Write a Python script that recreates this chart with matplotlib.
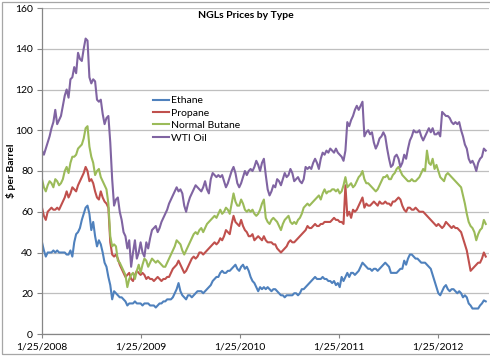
import matplotlib
matplotlib.use("Agg")
import matplotlib.pyplot as plt
import pandas as pd
from matplotlib.patches import Rectangle

# weekly prices, $ per barrel, first week 1/25/2008
ethane = [
    45, 41, 38, 40, 40, 40, 41, 40, 41, 40, 40, 40, 40, 39, 39, 41, 38, 45, 49, 50,
    52, 56, 59, 62, 63, 59, 51, 55, 48, 43, 46, 44, 40, 35, 33, 28, 24, 17, 21, 20,
    19, 18, 18, 17, 16, 14, 15, 15, 15, 16, 15, 15,
    # 2009
    15, 14, 15, 15, 15, 14, 14, 14, 13, 14, 15, 15, 16, 16, 17, 17, 17, 18, 20, 22,
    25, 21, 19, 18, 17, 19, 19, 18, 19, 20, 21, 21, 21, 20, 21, 22, 23, 24, 26, 27,
    28, 28, 30, 31, 30, 30, 31, 31, 32, 33, 34, 32,
    # 2010
    31, 33, 34, 32, 33, 31, 28, 26, 25, 23, 21, 23, 22, 23, 22, 23, 22, 21, 22, 22,
    21, 20, 19, 19, 18, 19, 19, 19, 19, 20, 20, 19, 20, 22, 22, 23, 24, 25, 26, 27,
    28, 27, 27, 27, 28, 27, 27, 26, 26, 25, 26, 24,
    # 2011
    25, 23, 28, 26, 28, 30, 28, 30, 30, 29, 30, 31, 33, 35, 34, 33, 32, 32, 31, 32,
    32, 31, 32, 33, 34, 35, 34, 33, 30, 30, 30, 30, 31, 32, 32, 36, 34, 37, 39, 39,
    38, 37, 37, 36, 35, 35, 35, 34, 33, 32, 29, 26,
    # 2012
    23, 20, 19, 21, 23, 24, 22, 21, 22, 22, 21, 20, 21, 20, 18, 19, 18, 15, 14, 12.5,
    12.5, 12.5, 12.5, 14, 15, 16.5, 16,
]
propane = [
    62, 58, 56, 60, 61, 62, 61, 61, 62, 61, 63, 65, 67, 70, 67, 69, 72, 71, 70, 73,
    75, 77, 79, 82, 80, 75, 76, 74, 70, 67, 66, 70, 67, 65, 64, 62, 45, 39, 38, 39,
    37, 34, 32, 30, 28, 29, 30, 27, 26, 29, 31, 30,
    29, 30, 29, 27, 28, 27, 27, 26, 27, 28, 27, 26, 27, 27, 28, 28, 30, 32, 33, 34,
    36, 34, 32, 30, 31, 33, 35, 37, 38, 37, 38, 40, 40, 39, 40, 41, 42, 43, 44, 45,
    44, 45, 47, 46, 48, 51, 50, 49, 54, 58, 55, 54,
    53, 56, 53, 51, 50, 48, 48, 49, 46, 47, 48, 47, 46, 48, 46, 45, 45, 45, 44, 44,
    42, 41, 40, 41, 42, 43, 45, 46, 45, 45, 46, 47, 48, 49, 50, 51, 53, 52, 52, 53,
    54, 53, 53, 54, 54, 55, 55, 55, 55, 56, 57, 56,
    56, 55, 55, 54, 73, 58, 60, 57, 61, 60, 61, 63, 65, 67, 62, 64, 63, 63, 64, 65,
    64, 63, 65, 64, 64, 65, 64, 64, 63, 65, 65, 66, 67, 66, 63, 61, 60, 62, 62, 61,
    61, 62, 61, 60, 60, 60, 59, 58, 57, 56, 55, 54,
    53, 54, 53, 52, 53, 55, 54, 53, 52, 53, 52, 52, 51, 50, 47, 44, 41, 36, 31, 32,
    33, 34, 35, 35, 37, 40, 38,
]
butane = [
    76, 72, 70, 73, 75, 74, 72, 76, 75, 73, 74, 76, 80, 82, 79, 84, 87, 87, 88, 91,
    92, 93, 96, 101, 102, 92, 87, 84, 78, 80, 81, 77, 75, 73, 71, 64, 48, 43, 44, 43,
    36, 35, 33, 31, 29, 23, 27, 29, 30, 27, 31, 34,
    30, 34, 37, 36, 33, 35, 37, 36, 35, 36, 35, 34, 33, 33, 35, 37, 39, 41, 43, 46,
    45, 44, 41, 39, 41, 43, 45, 47, 49, 50, 49, 51, 52, 50, 52, 54, 55, 56, 57, 58,
    57, 59, 61, 59, 60, 62, 61, 59, 64, 69, 65, 63,
    63, 66, 64, 61, 60, 61, 60, 61, 59, 58, 59, 61, 64, 66, 57, 55, 54, 56, 57, 56,
    55, 53, 51, 54, 56, 57, 58, 55, 54, 55, 54, 56, 57, 59, 62, 63, 64, 63, 64, 65,
    66, 67, 68, 66, 69, 71, 69, 70, 70, 71, 71, 70,
    71, 69, 70, 73, 77, 72, 73, 74, 72, 73, 75, 77, 78, 80, 76, 74, 74, 73, 72, 71,
    70, 71, 73, 75, 77, 77, 78, 76, 76, 78, 79, 81, 82, 80, 78, 77, 76, 75, 75, 76,
    75, 75, 76, 77, 79, 81, 80, 90, 84, 83, 86, 81,
    83, 80, 77, 76, 75, 78, 79, 78, 77, 76, 75, 74, 73, 72, 68, 64, 59, 55, 53, 52,
    50, 46, 49, 51, 52, 56, 54,
]
wti = [
    90, 88, 91, 94, 97, 101, 104, 110, 103, 105, 107, 112, 117, 120, 116, 125, 126, 131, 128, 138,
    135, 134, 140, 145, 144, 126, 123, 125, 124, 115, 114, 115, 108, 103, 106, 107, 94, 76, 63, 66,
    67, 60, 56, 50, 48, 42, 46, 33, 40, 46, 37, 40,
    45, 40, 38, 45, 42, 47, 51, 52, 53, 50, 52, 55, 57, 59, 61, 64, 66, 68, 70, 72,
    70, 71, 69, 63, 60, 64, 67, 69, 71, 73, 72, 71, 70, 72, 75, 71, 69, 76, 79, 78,
    77, 78, 77, 78, 75, 72, 74, 77, 80, 82, 79, 74,
    72, 74, 77, 80, 78, 80, 81, 80, 82, 85, 83, 80, 84, 86, 78, 71, 68, 70, 73, 72,
    76, 75, 73, 76, 79, 77, 78, 81, 79, 75, 76, 77, 75, 74, 76, 82, 81, 82, 81, 84,
    86, 84, 81, 86, 89, 88, 90, 89, 91, 90, 89, 91,
    89, 88, 87, 85, 90, 104, 102, 105, 107, 110, 112, 110, 112, 114, 97, 99, 100, 98, 99, 94,
    91, 93, 96, 97, 99, 97, 91, 86, 82, 83, 87, 88, 86, 82, 84, 88, 86, 91, 95, 97,
    100, 99, 99, 100, 97, 95, 97, 99, 101, 99, 101, 98,
    98, 99, 97, 109, 108, 107, 107, 106, 104, 103, 104, 103, 104, 100, 97, 93, 91, 86, 84, 85,
    83, 80, 84, 86, 87, 91, 90,
]

series_names = ["Ethane", "Propane", "Normal Butane", "WTI Oil"]
series_colors = ["#4f81bd", "#c0504d", "#9bbb59", "#8064a2"]
tick_labels = ["1/25/2008", "1/25/2009", "1/25/2010", "1/25/2011", "1/25/2012"]

plt.rcParams["font.family"] = ["Lato", "DejaVu Sans"]

dates = pd.date_range("2008-01-25", periods=len(ethane), freq="7D")
tick_dates = pd.to_datetime(tick_labels, format="%m/%d/%Y")

W, H = 490, 356
fig = plt.figure(figsize=(W / 100, H / 100), dpi=100)
ax = fig.add_axes([42 / W, 1 - 334 / H, (489 - 42) / W, (334 - 8) / H])

for vals, name, col in zip([ethane, propane, butane, wti], series_names, series_colors):
    ax.plot(dates, vals, color=col, lw=1.5, label=name)

ax.set_ylim(0, 160)
ax.set_yticks(range(0, 161, 20))
ax.set_xlim(dates[0], dates[0] + pd.Timedelta(days=1650))
ax.set_xticks(tick_dates)
ax.set_xticklabels(tick_labels)

ax.grid(axis="y", color="#bfbfbf", lw=0.9)
ax.set_axisbelow(True)
for s in ["top", "right"]:
    ax.spines[s].set_visible(False)
for s in ["left", "bottom"]:
    ax.spines[s].set_color("#868686")
    ax.spines[s].set_linewidth(0.9)
ax.tick_params(axis="y", length=3.5, width=0.8, color="#868686", pad=3, labelsize=7.5)
ax.tick_params(axis="x", length=3, width=0.8, color="#868686", pad=3, labelsize=7.5)

fig.text(246 / W, 1 - 15 / H, "NGLs Prices by Type", ha="center", va="center",
         fontsize=7.5, fontweight="bold")
fig.text(11 / W, 1 - 171 / H, "\\$ per Barrel", ha="center", va="center",
         rotation=90, fontsize=7.5, fontweight="bold")

ax.legend(loc="upper left", bbox_to_anchor=(153 / W, 1 - 96 / H),
          bbox_transform=fig.transFigure, frameon=False, fontsize=7.5,
          handlelength=1.5, handletextpad=0.2, labelspacing=0.3,
          borderpad=0, borderaxespad=0)

# chart area border
fig.patches.append(Rectangle((1.5 / W, 2.5 / H), 1.2, 1 - 4 / H, transform=fig.transFigure,
                             fill=False, edgecolor="#a6a6a6", lw=0.9))

fig.savefig("out.png", dpi=100)
